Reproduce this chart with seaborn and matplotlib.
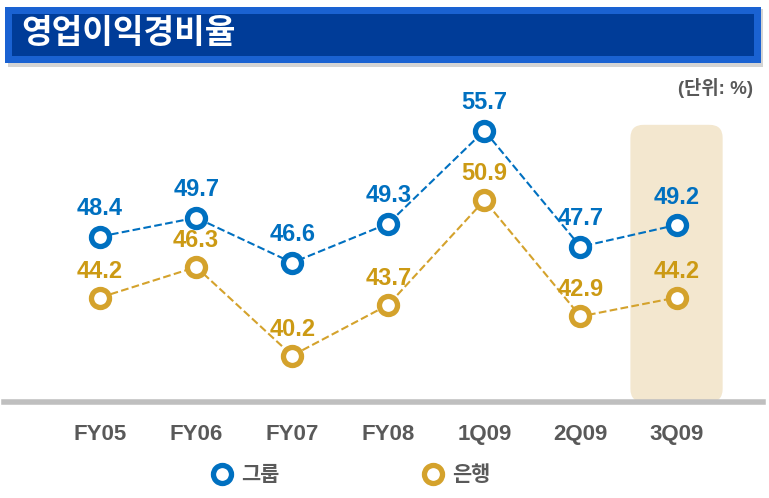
import matplotlib
matplotlib.use('Agg')
import matplotlib.pyplot as plt
from matplotlib.patches import Rectangle, FancyBboxPatch
from matplotlib.lines import Line2D
from matplotlib.transforms import IdentityTransform
import seaborn as sns
import pandas as pd

# 데이터
periods = ['FY05', 'FY06', 'FY07', 'FY08', '1Q09', '2Q09', '3Q09']
group_ratio = [48.4, 49.7, 46.6, 49.3, 55.7, 47.7, 49.2]
bank_ratio = [44.2, 46.3, 40.2, 43.7, 50.9, 42.9, 44.2]
series_names = ['그룹', '은행']

sns.set_style('white')
plt.rcParams['font.family'] = ['Liberation Sans', 'Noto Sans CJK KR', 'DejaVu Sans']

BLUE = '#0070C0'
GOLD = '#D4A22C'
GOLD_TXT = '#CC9A14'
GRAY = '#595959'

W, H = 769, 498
fig = plt.figure(figsize=(W / 100, H / 100), dpi=100)
ax = fig.add_axes([4 / W, 1 - 402 / H, (763 - 4) / W, (402 - 90) / H])

x = list(range(len(periods)))
df = pd.DataFrame({'x': x, 'group': group_ratio, 'bank': bank_ratio})

ax.set_xlim(-1.0, 6.9)
ax.set_ylim(37, 58.5)

# 3Q09 강조 영역
x0, y0 = ax.transData.transform((x[-1] - 0.48, 37))
x1, y1 = ax.transData.transform((x[-1] + 0.48, 56.1))
band = FancyBboxPatch((x0, y0), x1 - x0, y1 - y0, boxstyle='round,pad=0,rounding_size=13',
                      transform=IdentityTransform(), facecolor='#F3E7CF', edgecolor='none',
                      zorder=0.5, clip_on=False)
ax.add_artist(band)

for col, color, tcolor, off in [('group', BLUE, BLUE, 20), ('bank', GOLD, GOLD_TXT, 19)]:
    sns.lineplot(data=df, x='x', y=col, ax=ax, color=color, linestyle='--', lw=1.5,
                 dashes=(3, 2), marker='o', markersize=13, markerfacecolor='white',
                 markeredgecolor=color, markeredgewidth=3.8, zorder=3)
    for xi, v in zip(df['x'], df[col]):
        ax.annotate(f'{v:.1f}', (xi, v), xytext=(0, off), textcoords='offset points',
                    ha='center', va='center', fontsize=17, fontweight='bold', color=tcolor, zorder=4)

ax.set_xticks(x)
ax.set_xticklabels(periods, fontsize=16, fontweight='bold', color=GRAY)
ax.tick_params(axis='x', length=0, pad=16)
ax.set_yticks([])
ax.set_xlabel('')
ax.set_ylabel('')
for s in ['top', 'left', 'right']:
    ax.spines[s].set_visible(False)
ax.spines['bottom'].set_color('#BFBFBF')
ax.spines['bottom'].set_linewidth(4)
ax.spines['bottom'].set_zorder(1)

# 제목 배너
fig.patches.append(Rectangle((8 / W, 1 - 67 / H), 755 / W, 58 / H, transform=fig.transFigure,
                             facecolor='#B8B8B8', edgecolor='none', alpha=0.6, zorder=0))
fig.patches.append(Rectangle((5 / W, 1 - 63 / H), 756 / W, 56 / H, transform=fig.transFigure,
                             facecolor='#1A62D2', edgecolor='none', zorder=1))
fig.patches.append(Rectangle((12 / W, 1 - 56 / H), 742 / W, 42 / H, transform=fig.transFigure,
                             facecolor='#003C98', edgecolor='none', zorder=2))
fig.text(21 / W, 1 - 35 / H, '영업이익경비율', color='white', fontsize=24, fontweight='bold',
         va='center', ha='left', zorder=3)

fig.text(753 / W, 1 - 88 / H, '(단위: %)', color=GRAY, fontsize=13.5, fontweight='bold',
         ha='right', va='center')

# 범례
handles = [Line2D([], [], linestyle='none', marker='o', markersize=13, markerfacecolor='white',
                  markeredgecolor=c, markeredgewidth=3.8) for c in [BLUE, GOLD]]
leg = fig.legend(handles, series_names, loc='center', bbox_to_anchor=(350 / W, 1 - 475 / H),
                 ncol=2, frameon=False, columnspacing=6.8, handletextpad=0.3,
                 handlelength=1.2, prop={'size': 15, 'weight': 'bold'})
for t in leg.get_texts():
    t.set_color(GRAY)

plt.savefig('out.png', dpi=100)
